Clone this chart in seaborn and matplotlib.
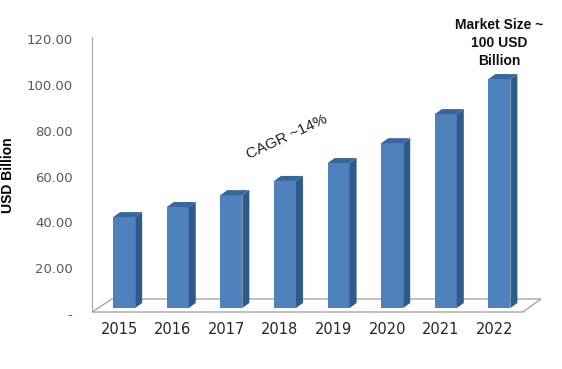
import matplotlib
matplotlib.use('Agg')
import matplotlib.pyplot as plt
import matplotlib.transforms as mtransforms
from matplotlib.patches import Polygon
import seaborn as sns
import pandas as pd

# values (USD Billion)
years = ['2015', '2016', '2017', '2018', '2019', '2020', '2021', '2022']
market_size = [39.7, 44.1, 49.3, 55.5, 63.3, 72.0, 84.7, 100.0]
ytick_values = [0, 20, 40, 60, 80, 100, 120]
ytick_labels = ['-', '20.00', '40.00', '60.00', '80.00', '100.00', '120.00']

sns.set_style('white')
plt.rcParams['font.family'] = ['Liberation Sans', 'DejaVu Sans']

fig = plt.figure(figsize=(5.62, 3.69), dpi=100)
ax = fig.add_axes([92 / 562, 57 / 369, 431 / 562, 281 / 369])

df = pd.DataFrame({'year': years, 'size': market_size})
sns.barplot(data=df, x='year', y='size', color='#4F81BD', saturation=1,
            width=0.41, ax=ax, zorder=3, linewidth=0, edgecolor='none')

ax.set_xlim(-0.6, 7.44)
ax.set_ylim(-1.75, 121)

# pixel size in data units, for the fake 3d depth
x0l, x1l = ax.get_xlim()
y0l, y1l = ax.get_ylim()
bbox = ax.get_window_extent()
px_x = (x1l - x0l) / bbox.width
px_y = (y1l - y0l) / bbox.height
dx, dy = 7 * px_x, 5 * px_y

for p in list(ax.patches):
    x0, w, y0, h = p.get_x(), p.get_width(), p.get_y(), p.get_height()
    side = Polygon([(x0 + w, y0), (x0 + w + dx, y0 + dy), (x0 + w + dx, h + dy), (x0 + w, h)],
                   closed=True, facecolor='#2F5A8C', edgecolor='none', zorder=3)
    top = Polygon([(x0, h), (x0 + w, h), (x0 + w + dx, h + dy), (x0 + dx, h + dy)],
                  closed=True, facecolor='#36679F', edgecolor='none', zorder=3)
    ax.add_patch(side)
    ax.add_patch(top)

# floor
floor = Polygon([(x0l, y0l), (x1l, y0l), (x1l + 18 * px_x, y0l + 13 * px_y), (x0l + 20 * px_x, y0l + 13 * px_y)],
                closed=True, facecolor='white', edgecolor='#A6A6A6', lw=1, clip_on=False, zorder=1)
ax.add_patch(floor)

for s in ['top', 'right', 'bottom']:
    ax.spines[s].set_visible(False)
ax.spines['left'].set_color('#A6A6A6')
ax.spines['left'].set_bounds(y0l, 118.3)

ax.set_yticks(ytick_values, ytick_labels)
ax.tick_params(axis='y', length=0, pad=14, labelsize=9.5, labelcolor='#595959',
               labelfontfamily='DejaVu Sans')
ax.tick_params(axis='x', length=0, pad=7, labelsize=10.5, labelcolor='#262626',
               labelfontfamily='DejaVu Sans')
for lab in ax.get_yticklabels():
    lab.set_transform(lab.get_transform() + mtransforms.ScaledTranslation(0, -0.06, fig.dpi_scale_trans))
for lab in ax.get_xticklabels():
    lab.set_transform(lab.get_transform() + mtransforms.ScaledTranslation(-0.05, 0, fig.dpi_scale_trans))
ax.set_xlabel('')
ax.set_ylabel('')

fig.text(8 / 562, 1 - 175 / 369, 'USD Billion', rotation=90, ha='center', va='center',
         fontsize=10, fontweight='bold', color='#000000')

ax.annotate('Market Size ~\n100 USD\nBillion', xy=(7, market_size[-1]), xytext=(0, 8),
            textcoords='offset points', ha='center', va='bottom', fontsize=10,
            fontweight='bold', linespacing=1.35, color='#111111')

ax.text(3.04, 74.7, 'CAGR ~14%', rotation=25, ha='center', va='center',
        fontsize=11, color='#222222', rotation_mode='anchor')

fig.savefig('out.png', dpi=100)
